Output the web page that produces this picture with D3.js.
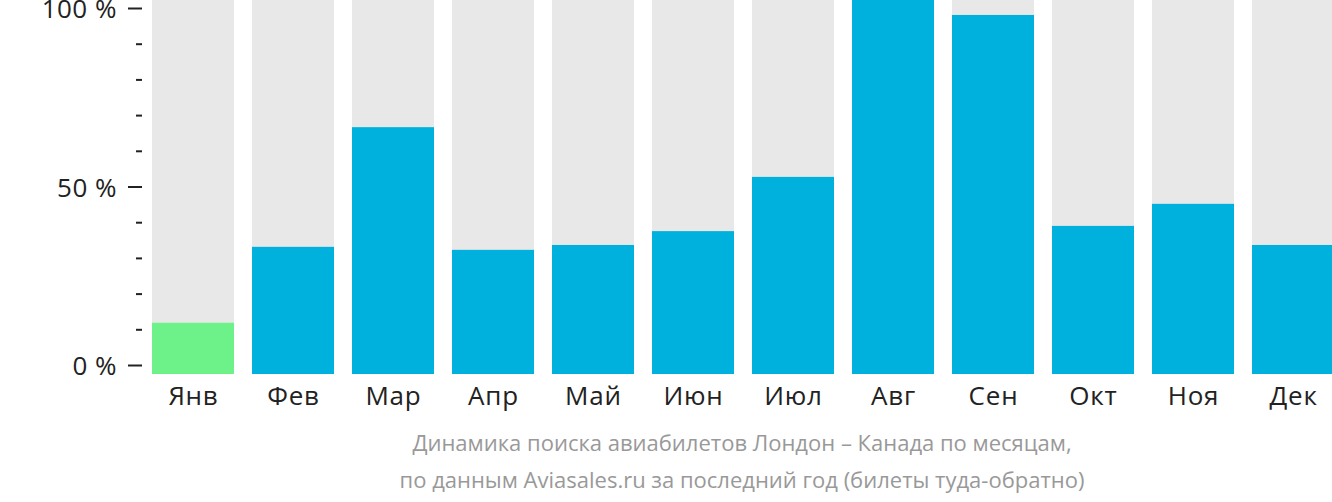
<!DOCTYPE html>
<meta charset="utf-8">
<style>
body { margin: 0; background: #fff; }
text { font-family: "Open Sans", sans-serif; }
.month text { font-size: 26px; letter-spacing: 0.8px; fill: #222; text-anchor: middle; }
.caption { font-size: 22px; fill: #999; text-anchor: middle; }
</style>
<svg width="1332" height="502"></svg>
<script src="https://cdn.jsdelivr.net/npm/d3@7"></script>
<script>

var months = ["Янв", "Фев", "Мар", "Апр", "Май", "Июн", "Июл", "Авг", "Сен", "Окт", "Ноя", "Дек"],
    values = [13.7, 34, 66, 33.2, 34.5, 38.2, 52.7, 100, 96, 39.6, 45.5, 34.5],
    majorTicks = [0, 50, 100],
    minorTicks = [10, 20, 30, 40, 60, 70, 80, 90],
    caption = ["Динамика поиска авиабилетов Лондон – Канада по месяцам,",
               "по данным Aviasales.ru за последний год (билеты туда-обратно)"];

var svg = d3.select("svg");

var x = d3.scaleBand()
    .domain(months)
    .range([143, 1343])
    .paddingInner(0.18)
    .paddingOuter(0.09);

// bars and axis don't share exactly the same box in the original
var yBar = d3.scaleLinear().domain([0, 100]).range([374, 0]),
    yAxis = d3.scaleLinear().domain([0, 100]).range([365, 8]);

var bar = svg.append("g").selectAll("g")
    .data(months)
  .enter().append("g");

bar.append("rect")
    .attr("x", function(d) { return x(d); })
    .attr("y", yBar(100))
    .attr("width", x.bandwidth())
    .attr("height", yBar(0) - yBar(100))
    .attr("fill", "#e8e8e8");

bar.append("rect")
    .attr("x", function(d) { return x(d); })
    .attr("y", function(d, i) { return yBar(values[i]); })
    .attr("width", x.bandwidth())
    .attr("height", function(d, i) { return yBar(0) - yBar(values[i]); })
    .attr("fill", function(d, i) { return i == 0 ? "#6cf288" : "#00b1dd"; });

svg.append("g")
    .attr("class", "month")
    .selectAll("text")
    .data(months)
  .enter().append("text")
    .attr("x", function(d) { return x(d) + x.bandwidth() / 2 + 0.5; })
    .attr("y", 405)
    .text(function(d) { return d; });

svg.append("g")
    .attr("transform", "translate(142,0)")
    .call(d3.axisLeft(yAxis).tickValues(majorTicks).tickSize(14).tickPadding(11)
      .tickFormat(function(d) { return d + " %"; }))
    .call(function(g) { g.select(".domain").remove(); })
    .call(function(g) { g.selectAll("line").attr("stroke", "#222").attr("stroke-width", 2); })
    .call(function(g) {
      g.selectAll("text")
          .attr("dy", "0.37em")
          .attr("font-size", 26)
          .attr("font-family", "Open Sans")
          .attr("letter-spacing", 0.5)
          .attr("fill", "#222");
    });

svg.append("g")
    .attr("transform", "translate(142,0)")
    .call(d3.axisLeft(yAxis).tickValues(minorTicks).tickSize(6).tickFormat(""))
    .call(function(g) { g.select(".domain").remove(); })
    .call(function(g) { g.selectAll("line").attr("stroke", "#222").attr("stroke-width", 2); });

svg.append("g").selectAll("text")
    .data(caption)
  .enter().append("text")
    .attr("class", "caption")
    .attr("x", 742)
    .attr("y", function(d, i) { return 451 + i * 37; })
    .text(function(d) { return d; });

</script>
